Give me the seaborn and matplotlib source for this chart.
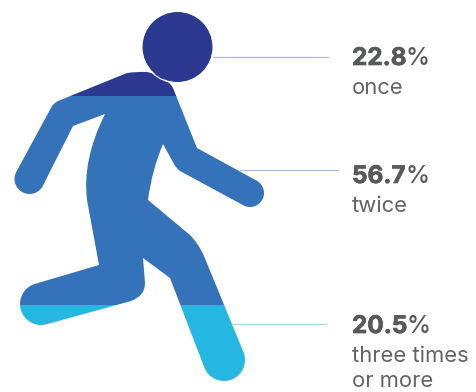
import matplotlib
matplotlib.use("Agg")
import matplotlib.pyplot as plt
import numpy as np
import seaborn as sns
from matplotlib.patches import Circle
from matplotlib.path import Path
from matplotlib.patheffects import withStroke
from matplotlib.transforms import Affine2D

# Share of respondents per frequency
freq_labels = ["once", "twice", "three times\nor more"]
freq_values = [22.8, 56.7, 20.5]
band_colors = ["#2c3990", "#3473b9", "#25b7e1"]
leader_colors = ["#b0b9d6", "#a5c2e0", "#a5dae5"]

sns.set_theme(style="white")
plt.rcParams["font.family"] = ["Inter", "DejaVu Sans"]

WIDTH, HEIGHT = 476, 392
fig = plt.figure(figsize=(WIDTH / 100, HEIGHT / 100), dpi=100, facecolor="white")

# Stacked percent column, spanning head to toe of the figure
TOP, BOTTOM = 12, 381
ax = fig.add_axes([0, 1 - BOTTOM / HEIGHT, 300 / WIDTH, (BOTTOM - TOP) / HEIGHT])

cumulative = 0.0
for value, color in zip(freq_values, band_colors):
    sns.barplot(x=["share"], y=[value], bottom=cumulative, color=color,
                saturation=1, width=1, linewidth=0, ax=ax)
    cumulative += value
ax.set_xlim(-0.5, 0.5)
ax.set_ylim(100, 0)
ax.axis("off")


def cap(cx, cy, r, start_deg, end_deg):
    """Round limb end, as (code, vertex) pairs, in canvas units with y pointing down."""
    angles = np.radians(np.linspace(start_deg, end_deg, 24))
    return [(Path.LINETO, (cx + r * np.cos(a), cy + r * np.sin(a))) for a in angles]


# Runner outline in canvas units (origin top-left)
L, Q = Path.LINETO, Path.CURVE3
outline = [
    (Path.MOVETO, (127, 73)),
    (Q, (137, 71.5)), (Q, (147, 72)),
    (L, (155, 74)), (L, (168, 82)),
    (Q, (171, 84)), (Q, (173, 88)),
    (L, (197, 148)),
    *cap(250, 193, 14, -60.5, 119.5),   # right hand
    (L, (180, 171)),
    (Q, (176, 168)), (Q, (174, 164)),
    (L, (163, 144)),
    (Q, (152, 170)), (Q, (148, 200)),
    (L, (190, 235)),
    (Q, (198, 243)), (Q, (204, 256)),
    *cap(224, 360, 21, -21.6, 158.4),   # right foot
    (L, (170, 278)),
    (L, (143, 258)),
    (L, (145, 283)),
    (Q, (145, 296)), (Q, (131, 301)),
    *cap(41, 304, 21, 73.7, 253.7),     # left foot
    (L, (99, 265)),
    (L, (87, 200)),
    (Q, (82, 160)), (Q, (105, 114)),
    (L, (73, 126)),
    *cap(29.5, 179, 15, 30, 210),       # left hand
    (L, (52, 106)),
    (Q, (54, 103)), (Q, (58, 101)),
    (Path.CLOSEPOLY, (127, 73)),
]
codes = [c for c, _ in outline]
verts = [v for _, v in outline]
body = Path(verts, codes)
head = Path.circle((177.5, 47), 35)
runner = Path.make_compound_path(body, head)

canvas = Affine2D().scale(1 / WIDTH, -1 / HEIGHT).translate(0, 1) + fig.transFigure
for bar in ax.patches:
    bar.set_clip_path(runner, canvas)

# White rim separating head from shoulders
fig.add_artist(Circle((177.5, 47), 36, transform=canvas, fc="none", ec="white", lw=0.8, zorder=5))

# Leader lines and annotations
leaders = [(213, 328, 57), (240, 338, 170), (232, 326, 324)]
value_base = [65, 183, 333]
label_base = [94, 212, 362]
LINE_STEP = 25.5
TEXT_X = 352
renderer = fig.canvas.get_renderer()
heavy = [withStroke(linewidth=0.5, foreground="#58595b")]
for value, label, color, (x0, x1, ly), vb, lb in zip(
        freq_values, freq_labels, leader_colors, leaders, value_base, label_base):
    fig.add_artist(plt.Line2D([x0, x1], [ly, ly], transform=canvas, color=color, lw=0.9))
    number = fig.text(TEXT_X, vb, f"{value:.1f}", transform=canvas, fontsize=17.5,
                      fontweight="bold", color="#58595b", va="baseline", ha="left",
                      path_effects=heavy)
    right = number.get_window_extent(renderer).x1
    fig.text(right - 0.5, vb, "%", transform=canvas, fontsize=17.5, fontweight="medium",
             color="#58595b", va="baseline", ha="left")
    for i, line in enumerate(label.split("\n")):
        fig.text(TEXT_X, lb + i * LINE_STEP, line, transform=canvas, fontsize=15.8,
                 color="#636466", va="baseline", ha="left")

fig.savefig("out.png", dpi=100, facecolor="white")
